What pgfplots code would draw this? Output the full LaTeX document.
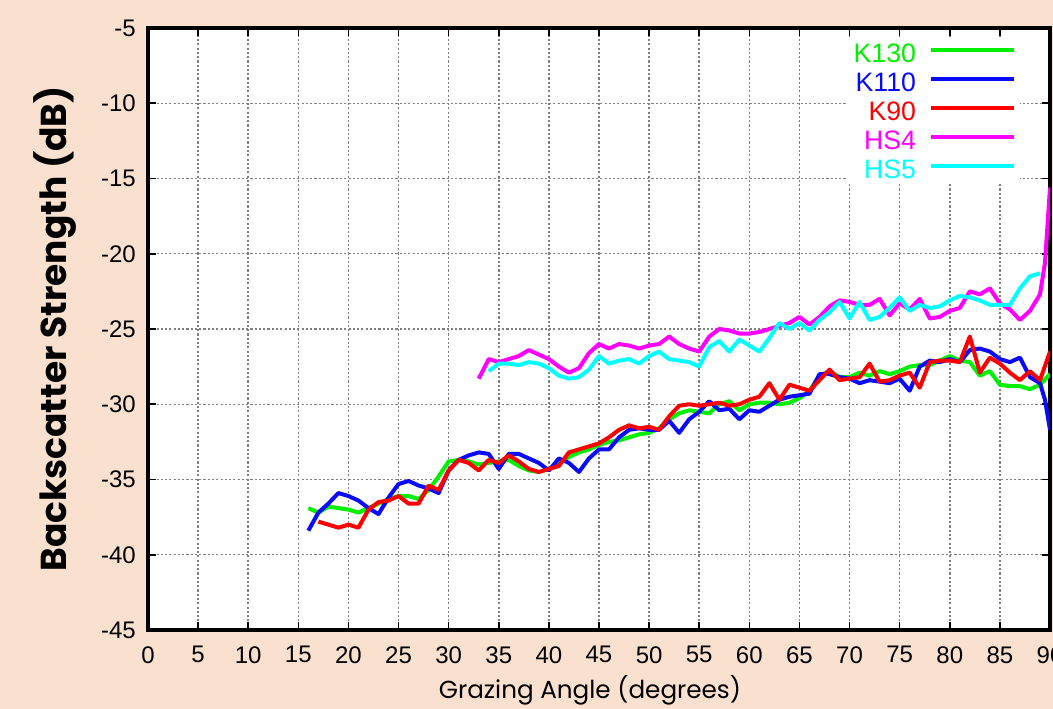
\documentclass[border=0pt]{standalone}
\usepackage{pgfplots}
\usepackage{pgfplotstable}
\pgfplotsset{compat=1.18}
\usepackage{fontspec}
\setmainfont{Liberation Sans}
\newfontfamily\pop{Poppins}
\definecolor{bgpeach}{RGB}{250,224,207}
\definecolor{cgreen}{RGB}{0,240,0}
\definecolor{cblue}{RGB}{10,10,250}
\definecolor{cred}{RGB}{255,0,0}
\definecolor{cmag}{RGB}{255,0,255}
\definecolor{ccyan}{RGB}{0,255,255}

\pgfplotstableread{
x y
16 -36.9
17 -37.2
18 -36.8
19 -36.9
20 -37.0
21 -37.2
22 -36.9
23 -36.6
24 -36.3
25 -36.1
26 -36.1
27 -36.3
28 -35.7
29 -34.8
30 -33.8
31 -33.7
32 -33.8
33 -34.0
34 -33.9
35 -33.8
36 -33.7
37 -34.1
38 -34.4
39 -34.5
40 -34.3
41 -33.9
42 -33.5
43 -33.2
44 -33.0
45 -32.7
46 -32.5
47 -32.4
48 -32.2
49 -32.0
50 -31.9
51 -31.6
52 -31.0
53 -30.6
54 -30.4
55 -30.5
56 -30.6
57 -30.0
58 -29.8
59 -30.4
60 -30.0
61 -29.9
62 -29.9
63 -30.0
64 -29.9
65 -29.6
66 -29.1
67 -28.1
68 -27.8
69 -28.2
70 -28.2
71 -27.9
72 -28.1
73 -27.8
74 -28.0
75 -27.8
76 -27.5
77 -27.4
78 -27.4
79 -27.1
80 -26.8
81 -27.1
82 -27.2
83 -28.1
84 -27.8
85 -28.7
86 -28.8
87 -28.8
88 -29.0
89 -28.7
90 -28.0
}\kone

\pgfplotstableread{
x y
16 -38.4
17 -37.2
18 -36.6
19 -35.9
20 -36.1
21 -36.4
22 -36.9
23 -37.3
24 -36.2
25 -35.3
26 -35.1
27 -35.4
28 -35.6
29 -35.9
30 -34.4
31 -33.7
32 -33.4
33 -33.2
34 -33.3
35 -34.3
36 -33.3
37 -33.3
38 -33.6
39 -33.9
40 -34.4
41 -33.6
42 -33.9
43 -34.5
44 -33.6
45 -33.0
46 -33.0
47 -32.2
48 -31.7
49 -31.6
50 -31.7
51 -31.7
52 -31.1
53 -31.9
54 -31.0
55 -30.5
56 -29.8
57 -30.4
58 -30.3
59 -31.0
60 -30.4
61 -30.5
62 -30.1
63 -29.7
64 -29.5
65 -29.4
66 -29.3
67 -28.0
68 -28.0
69 -28.2
70 -28.3
71 -28.6
72 -28.4
73 -28.5
74 -28.6
75 -28.3
76 -29.1
77 -27.5
78 -27.1
79 -27.2
80 -27.0
81 -27.2
82 -26.4
83 -26.3
84 -26.5
85 -27.0
86 -27.2
87 -26.9
88 -28.2
89 -28.6
89.5 -29.7
90 -31.7
}\ktwo

\pgfplotstableread{
x y
17 -37.8
18 -38.0
19 -38.2
20 -38.0
21 -38.2
22 -37.0
23 -36.5
24 -36.4
25 -36.1
26 -36.6
27 -36.6
28 -35.4
29 -35.7
30 -34.4
31 -33.7
32 -33.9
33 -34.4
34 -33.7
35 -33.9
36 -33.4
37 -33.8
38 -34.3
39 -34.5
40 -34.3
41 -34.1
42 -33.2
43 -33.0
44 -32.8
45 -32.6
46 -32.2
47 -31.7
48 -31.4
49 -31.6
50 -31.5
51 -31.7
52 -30.8
53 -30.1
54 -30.0
55 -30.1
56 -30.0
57 -29.9
58 -30.1
59 -30.0
60 -29.7
61 -29.5
62 -28.6
63 -29.7
64 -28.7
65 -28.9
66 -29.1
67 -28.4
68 -27.7
69 -28.4
70 -28.3
71 -28.2
72 -27.3
73 -28.5
74 -28.4
75 -28.1
76 -27.9
77 -28.9
78 -27.2
79 -27.1
80 -27.1
81 -27.2
82 -25.5
83 -27.9
84 -26.9
85 -27.3
86 -27.9
87 -28.4
88 -27.8
89 -28.4
90 -26.5
}\kthree

\pgfplotstableread{
x y
33 -28.3
34 -27.0
35 -27.2
36 -27.0
37 -26.8
38 -26.4
39 -26.7
40 -27.0
41 -27.5
42 -27.9
43 -27.6
44 -26.6
45 -26.0
46 -26.3
47 -26.0
48 -26.1
49 -26.3
50 -26.1
51 -26.0
52 -25.5
53 -26.0
54 -26.3
55 -26.5
56 -25.5
57 -25.0
58 -25.1
59 -25.3
60 -25.3
61 -25.2
62 -25.0
63 -24.8
64 -24.6
65 -24.2
66 -24.7
67 -24.2
68 -23.5
69 -23.1
70 -23.2
71 -23.4
72 -23.4
73 -23.0
74 -24.1
75 -23.3
76 -23.7
77 -23.0
78 -24.3
79 -24.2
80 -23.8
81 -23.6
82 -22.5
83 -22.7
84 -22.3
85 -23.3
86 -23.7
87 -24.4
88 -23.8
89 -22.7
89.5 -20.6
90 -15.6
}\hsfour

\pgfplotstableread{
x y
34 -27.8
35 -27.3
36 -27.3
37 -27.4
38 -27.2
39 -27.3
40 -27.6
41 -28.1
42 -28.3
43 -28.2
44 -27.7
45 -26.8
46 -27.3
47 -27.1
48 -27.0
49 -27.3
50 -26.8
51 -26.5
52 -27.0
53 -27.1
54 -27.2
55 -27.5
56 -26.2
57 -25.8
58 -26.5
59 -25.7
60 -26.1
61 -26.5
62 -25.6
63 -24.6
64 -25.0
65 -24.6
66 -25.1
67 -24.4
68 -23.9
69 -23.2
70 -24.3
71 -23.2
72 -24.4
73 -24.2
74 -23.6
75 -22.9
76 -23.8
77 -23.4
78 -23.6
79 -23.5
80 -23.1
81 -22.8
82 -22.9
83 -23.1
84 -23.4
85 -23.4
86 -23.4
87 -22.3
88 -21.5
89 -21.3
}\hsfive

\begin{document}
\begin{tikzpicture}
\fill[bgpeach] (0,0) rectangle (789.75pt,531.75pt);
\begin{axis}[
  at={(111pt,59.25pt)}, anchor=south west,
  width=676.5pt, height=451.5pt, scale only axis,
  xmin=0, xmax=90, ymin=-45, ymax=-5,
  xtick={0,5,...,90}, ytick={-45,-40,...,-5},
  axis background/.style={fill=white},
  axis line style={line width=3pt, black},
  grid=major,
  major grid style={black!50, line width=1.1pt, dash pattern=on 1.6pt off 1.6pt},
  tick align=inside, major tick length=6pt,
  tick style={black, line width=1.2pt},
  /pgf/number format/assume math mode=true,
  yticklabel style={font=\fontsize{18}{20}\selectfont, anchor=east, inner sep=0pt, xshift=-9pt},
  xticklabel style={font=\fontsize{18}{20}\selectfont, anchor=north, inner sep=0pt, yshift=-12pt},
  xlabel={Grazing Angle (degrees)},
  xlabel style={font=\pop\fontsize{18.5}{20}\selectfont, at={(axis description cs:0.49,-0.1)}, anchor=center},
  ylabel={Backscatter Strength (dB)},
  ylabel style={font=\pop\bfseries\fontsize{27}{30}\selectfont, at={(axis description cs:-0.103,0.5)}, anchor=center},
  legend style={at={(axis description cs:0.967,0.983)}, anchor=north east,
    draw=none, fill=white, font=\fontsize{20}{22}\selectfont,
    row sep=3.75pt, column sep=9pt,
    nodes={inner sep=1pt, text height=15pt, text depth=1pt}},
  legend cell align=right,
  legend plot pos=right,
  legend image code/.code={\draw[#1, line width=3pt] (0pt,2pt) -- (62pt,2pt);},
  every axis plot/.append style={line width=3pt, line join=round},
]
\addplot[cgreen] table {\kone};
\addlegendentry{\textcolor{cgreen}{K130}}
\addplot[cblue] table {\ktwo};
\addlegendentry{\textcolor{cblue}{K110}}
\addplot[cred] table {\kthree};
\addlegendentry{\textcolor{cred}{K90}}
\addplot[cmag] table {\hsfour};
\addlegendentry{\textcolor{cmag}{HS4}}
\addplot[ccyan] table {\hsfive};
\addlegendentry{\textcolor{ccyan}{HS5}}
\end{axis}
\pgfresetboundingbox
\path (0,0) rectangle (789.75pt,531.75pt);
\end{tikzpicture}
\end{document}
